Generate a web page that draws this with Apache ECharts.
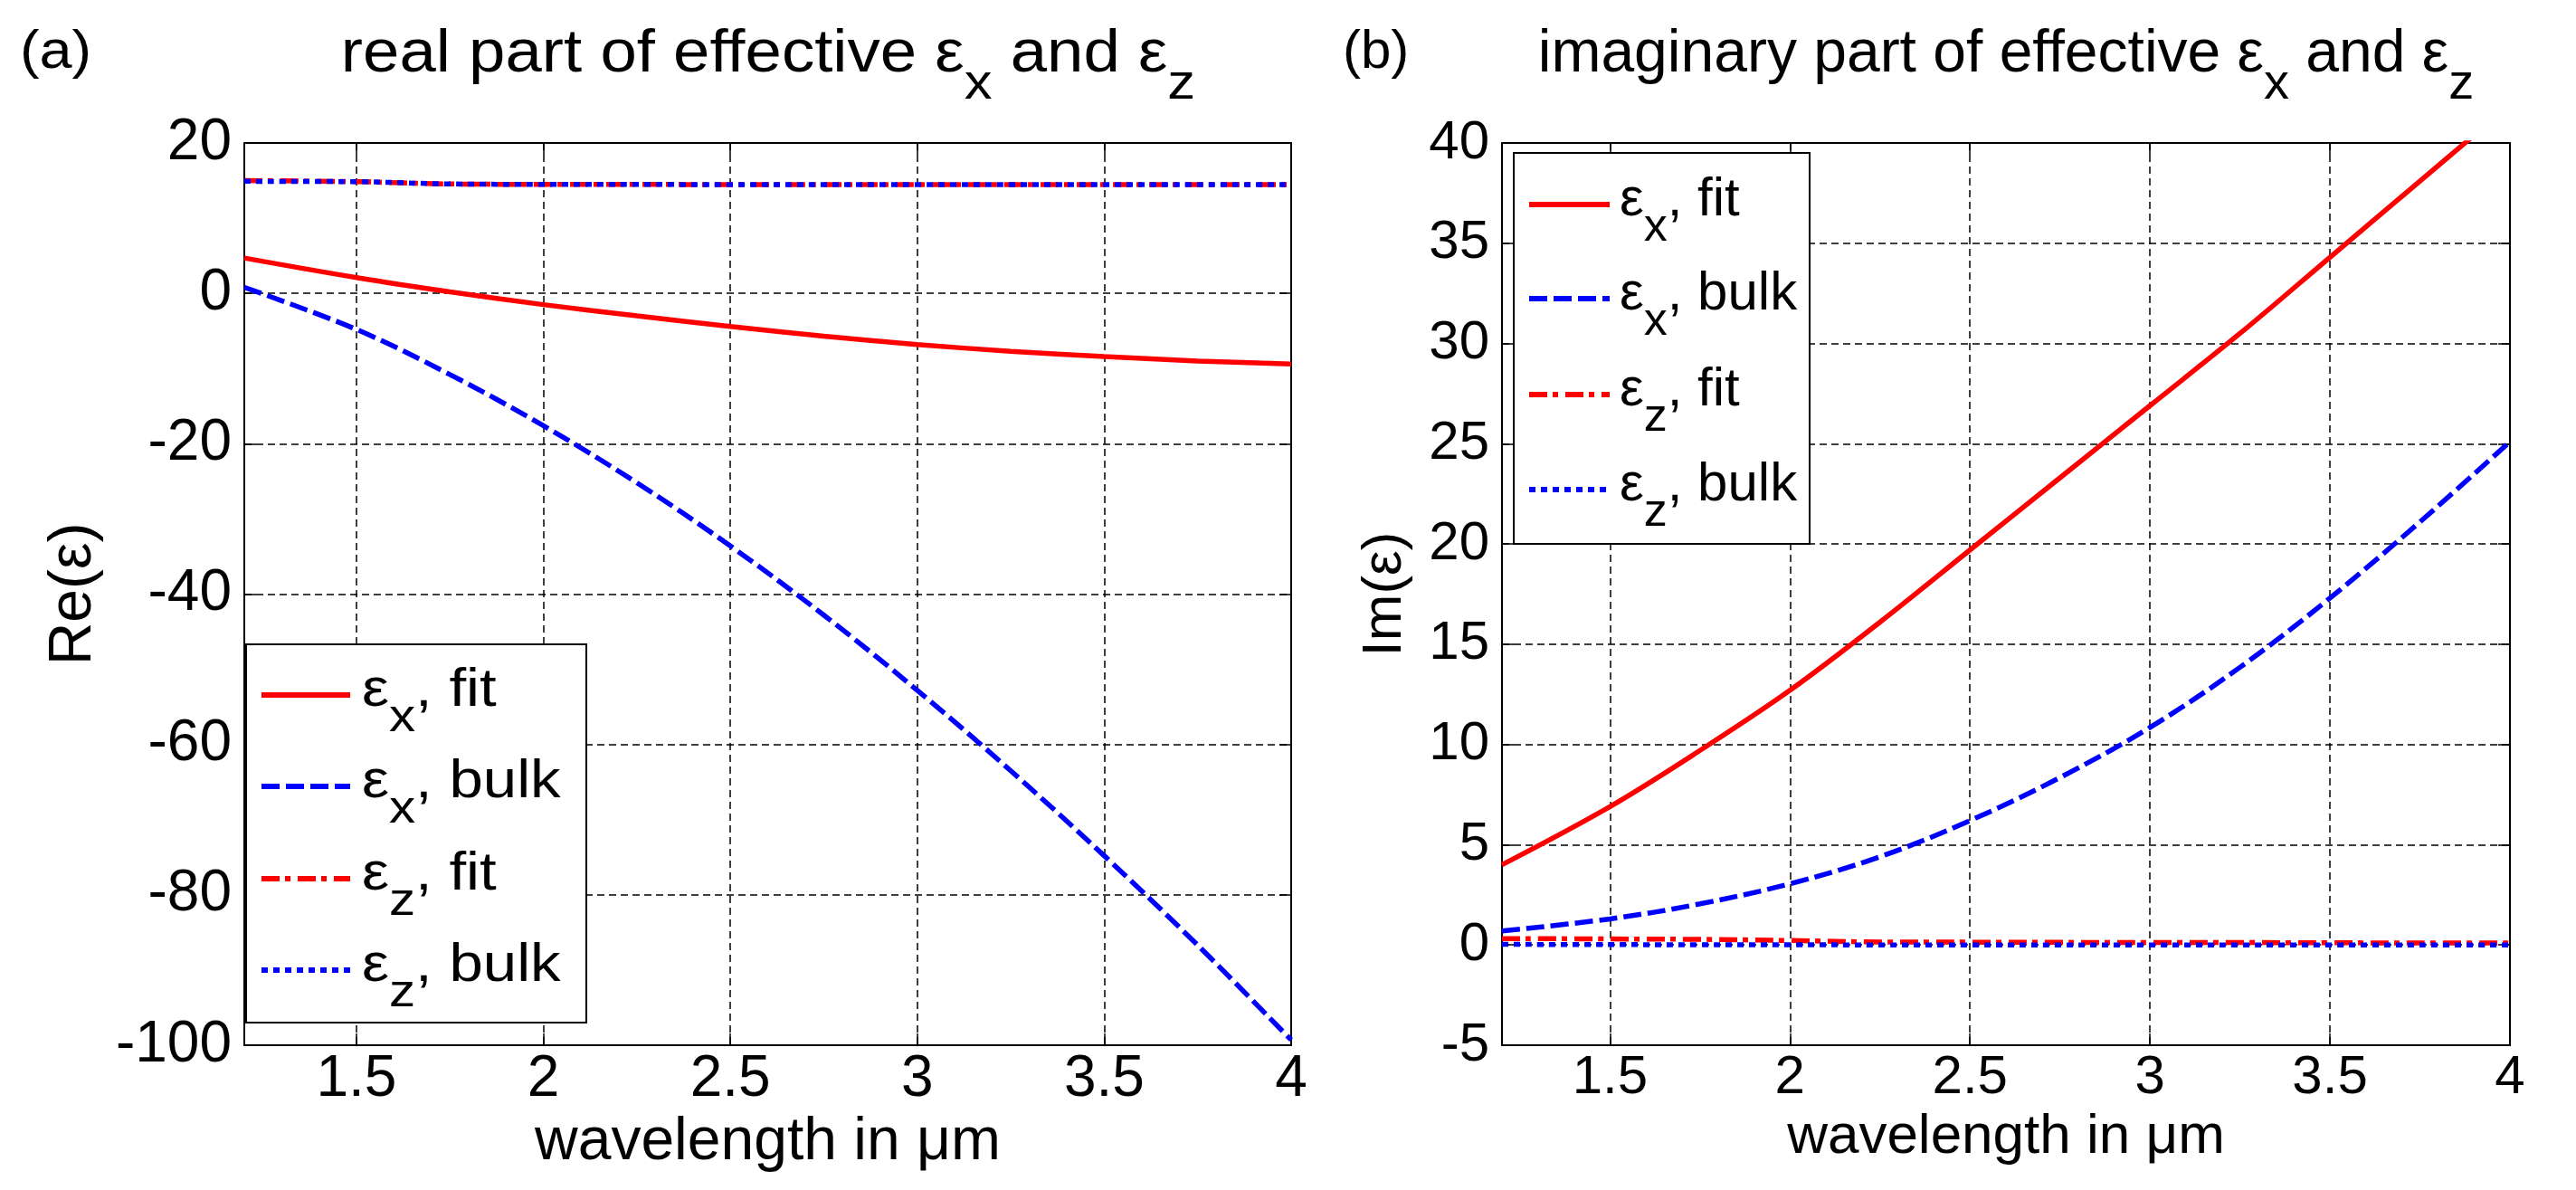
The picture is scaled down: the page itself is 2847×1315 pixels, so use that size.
<!DOCTYPE html>
<html><head><meta charset="utf-8">
<script src="https://cdn.jsdelivr.net/npm/echarts@6/dist/echarts.min.js"></script>
<style>html,body{margin:0;padding:0;background:#fff}#c{width:2847px;height:1315px}</style>
</head><body><div id="c"></div>
<script>
// ---- data ----
const wavelength   = [1.2, 1.5, 1.75, 2.0, 2.25, 2.5, 2.75, 3.0, 3.25, 3.5, 3.75, 4.0];
const reEpsXFit    = [4.7, 2.1, 0.2, -1.5, -3.0, -4.4, -5.7, -6.8, -7.7, -8.4, -9.0, -9.4];
const reEpsXBulk   = [0.8, -4.8, -10.8, -17.6, -25.2, -33.6, -42.8, -52.8, -63.5, -74.8, -86.7, -99.3];
const reEpsZFit    = [15.0, 14.85, 14.55, 14.5, 14.5, 14.45, 14.45, 14.45, 14.45, 14.45, 14.45, 14.45];
const reEpsZBulk   = [14.9, 14.85, 14.55, 14.5, 14.5, 14.45, 14.45, 14.45, 14.45, 14.45, 14.45, 14.45];
const imEpsXFit    = [4.0, 6.9, 9.7, 12.7, 16.1, 19.7, 23.3, 26.9, 30.5, 34.3, 38.1, 41.9];
const imEpsXBulk   = [0.7, 1.3, 2.05, 3.05, 4.4, 6.2, 8.35, 10.85, 13.85, 17.3, 21.1, 25.1];
const imEpsZFit    = [0.32, 0.3, 0.28, 0.22, 0.15, 0.14, 0.13, 0.12, 0.12, 0.11, 0.1, 0.1];
const imEpsZBulk   = [0.03, 0.02, 0.01, 0.01, 0.0, 0.0, 0.0, 0.0, 0.0, 0.0, 0.0, 0.0];
const xTicks       = [1.5, 2, 2.5, 3, 3.5, 4];
const seriesNames  = ['εx, fit', 'εx, bulk', 'εz, fit', 'εz, bulk'];
const legendSubs   = ['x', 'x', 'z', 'z'];
const legendWords  = ['fit', 'bulk', 'fit', 'bulk'];

// ---- styles ----
const FONT = "'Liberation Sans', Arial, sans-serif";
const RED = '#ff0000', BLUE = '#0000ff';
const lineStyles = [
  {color: RED,  width: 5.5, type: 'solid'},
  {color: BLUE, width: 5.5, type: [20, 7]},
  {color: RED,  width: 5.5, type: [20, 6, 6, 8]},
  {color: BLUE, width: 5.5, type: [7, 6]}
];

const pairs = v => wavelength.map((w, i) => [w, v[i]]);

function xMain(g, fs) {
  return {type: 'value', gridIndex: g, min: 1.2, max: 4, position: 'bottom',
    name: 'wavelength in μm', nameLocation: 'middle', nameGap: 66,
    nameTextStyle: {fontFamily: FONT, fontSize: fs + 2, color: '#000'},
    axisLine: {show: true, onZero: false, lineStyle: {color: '#000', width: 2}},
    axisTick: {show: true, inside: true, length: 13, customValues: xTicks, lineStyle: {color: '#000', width: 1.5}},
    axisLabel: {show: true, customValues: xTicks, margin: 6, fontFamily: FONT, fontSize: fs, color: '#000'},
    splitLine: {show: true, lineStyle: {color: '#000', width: 1.5, type: [8, 5]}}};
}
function xTop(g) {
  return {type: 'value', gridIndex: g, min: 1.2, max: 4, position: 'top',
    axisLine: {show: true, onZero: false, lineStyle: {color: '#000', width: 2}},
    axisTick: {show: true, inside: true, length: 13, customValues: xTicks, lineStyle: {color: '#000', width: 1.5}},
    axisLabel: {show: false}, splitLine: {show: false}};
}
function yMain(g, min, max, interval, name, gap, fs) {
  return {type: 'value', gridIndex: g, min: min, max: max, interval: interval, position: 'left',
    name: name, nameLocation: 'middle', nameGap: gap, nameRotate: 90,
    nameTextStyle: {fontFamily: FONT, fontSize: fs + 2, color: '#000'},
    axisLine: {show: true, onZero: false, lineStyle: {color: '#000', width: 2}},
    axisTick: {show: true, inside: true, length: 13, lineStyle: {color: '#000', width: 1.5}},
    axisLabel: {show: true, margin: 14, fontFamily: FONT, fontSize: fs, color: '#000'},
    splitLine: {show: true, lineStyle: {color: '#000', width: 1.5, type: [8, 5]}}};
}
function yRight(g, min, max, interval) {
  return {type: 'value', gridIndex: g, min: min, max: max, interval: interval, position: 'right',
    axisLine: {show: true, onZero: false, lineStyle: {color: '#000', width: 2}},
    axisTick: {show: true, inside: true, length: 13, lineStyle: {color: '#000', width: 1.5}},
    axisLabel: {show: false}, splitLine: {show: false}};
}

const panelData = [
  [reEpsXFit, reEpsXBulk, reEpsZFit, reEpsZBulk],
  [imEpsXFit, imEpsXBulk, imEpsZFit, imEpsZBulk]
];
const series = [];
panelData.forEach((arrs, g) => {
  arrs.forEach((arr, k) => {
    series.push({type: 'line', name: seriesNames[k], xAxisIndex: g * 2, yAxisIndex: g * 2,
      data: pairs(arr), showSymbol: false, symbol: 'none', smooth: 0.35, clip: true,
      lineStyle: lineStyles[k], z: 3 + k});
  });
});

// ---- text pieces (titles, panel letters, legends) ----
function rich(fs, sfs, pad) {
  return {
    n: {fontFamily: FONT, fontSize: fs, color: '#000', verticalAlign: 'top'},
    s: {fontFamily: FONT, fontSize: sfs, color: '#000', verticalAlign: 'top', padding: [pad, 0, 0, 0]}
  };
}
const graphic = [];
graphic.push({type: 'text', x: 22, y: 58, z: 100, scaleX: 1.08, style: {text: '(a)', fontFamily: FONT, fontSize: 60, fill: '#000', verticalAlign: 'middle'}});
graphic.push({type: 'text', x: 1484, y: 58, z: 100, style: {text: '(b)', fontFamily: FONT, fontSize: 60, fill: '#000', verticalAlign: 'middle'}});
graphic.push({type: 'text', x: 849, y: 28, z: 100, scaleX: 1.1,
  style: {text: '{n|real part of effective ε}{s|x}{n| and ε}{s|z}', rich: rich(66, 56, 38), align: 'center', verticalAlign: 'top'}});
graphic.push({type: 'text', x: 2217, y: 28, z: 100,
  style: {text: '{n|imaginary part of effective ε}{s|x}{n| and ε}{s|z}', rich: rich(66, 56, 38), align: 'center', verticalAlign: 'top'}});

function addLegend(bx, by, bw, bh, rows, lineLen, textDx, sx) {
  graphic.push({type: 'rect', z: 100, shape: {x: bx, y: by, width: bw, height: bh},
    style: {fill: '#fff', stroke: '#000', lineWidth: 2}});
  rows.forEach((ry, k) => {
    const ls = lineStyles[k];
    graphic.push({type: 'line', z: 101, shape: {x1: bx + 17, y1: ry, x2: bx + 17 + lineLen, y2: ry},
      style: {stroke: ls.color, lineWidth: 6, lineDash: ls.type === 'solid' ? null : ls.type}});
    graphic.push({type: 'text', z: 101, x: bx + textDx, y: ry - 35, scaleX: sx,
      style: {text: '{n|ε}{s|' + legendSubs[k] + '}{n|, ' + legendWords[k] + '}', rich: rich(60, 52, 35), verticalAlign: 'top'}});
  });
}
addLegend(272, 712, 376, 418, [768, 869, 971, 1072], 98, 128, 1.12);
addLegend(1673, 169, 327, 432, [226, 330, 436, 541], 89, 117, 1.0);

const option = {
  backgroundColor: '#fff',
  animation: false,
  grid: [
    {left: 270, top: 158, width: 1157, height: 997},
    {left: 1660, top: 158, width: 1114, height: 997}
  ],
  xAxis: [xMain(0, 64), xTop(0), xMain(1, 60), xTop(1)],
  yAxis: [yMain(0, -100, 20, 20, 'Re(ε)', 155, 64), yRight(0, -100, 20, 20),
          yMain(1, -5, 40, 5, 'Im(ε)', 98, 60), yRight(1, -5, 40, 5)],
  series: series,
  graphic: graphic
};
const chart = echarts.init(document.getElementById('c'), null, {renderer: 'canvas'});
chart.setOption(option);
</script></body></html>
